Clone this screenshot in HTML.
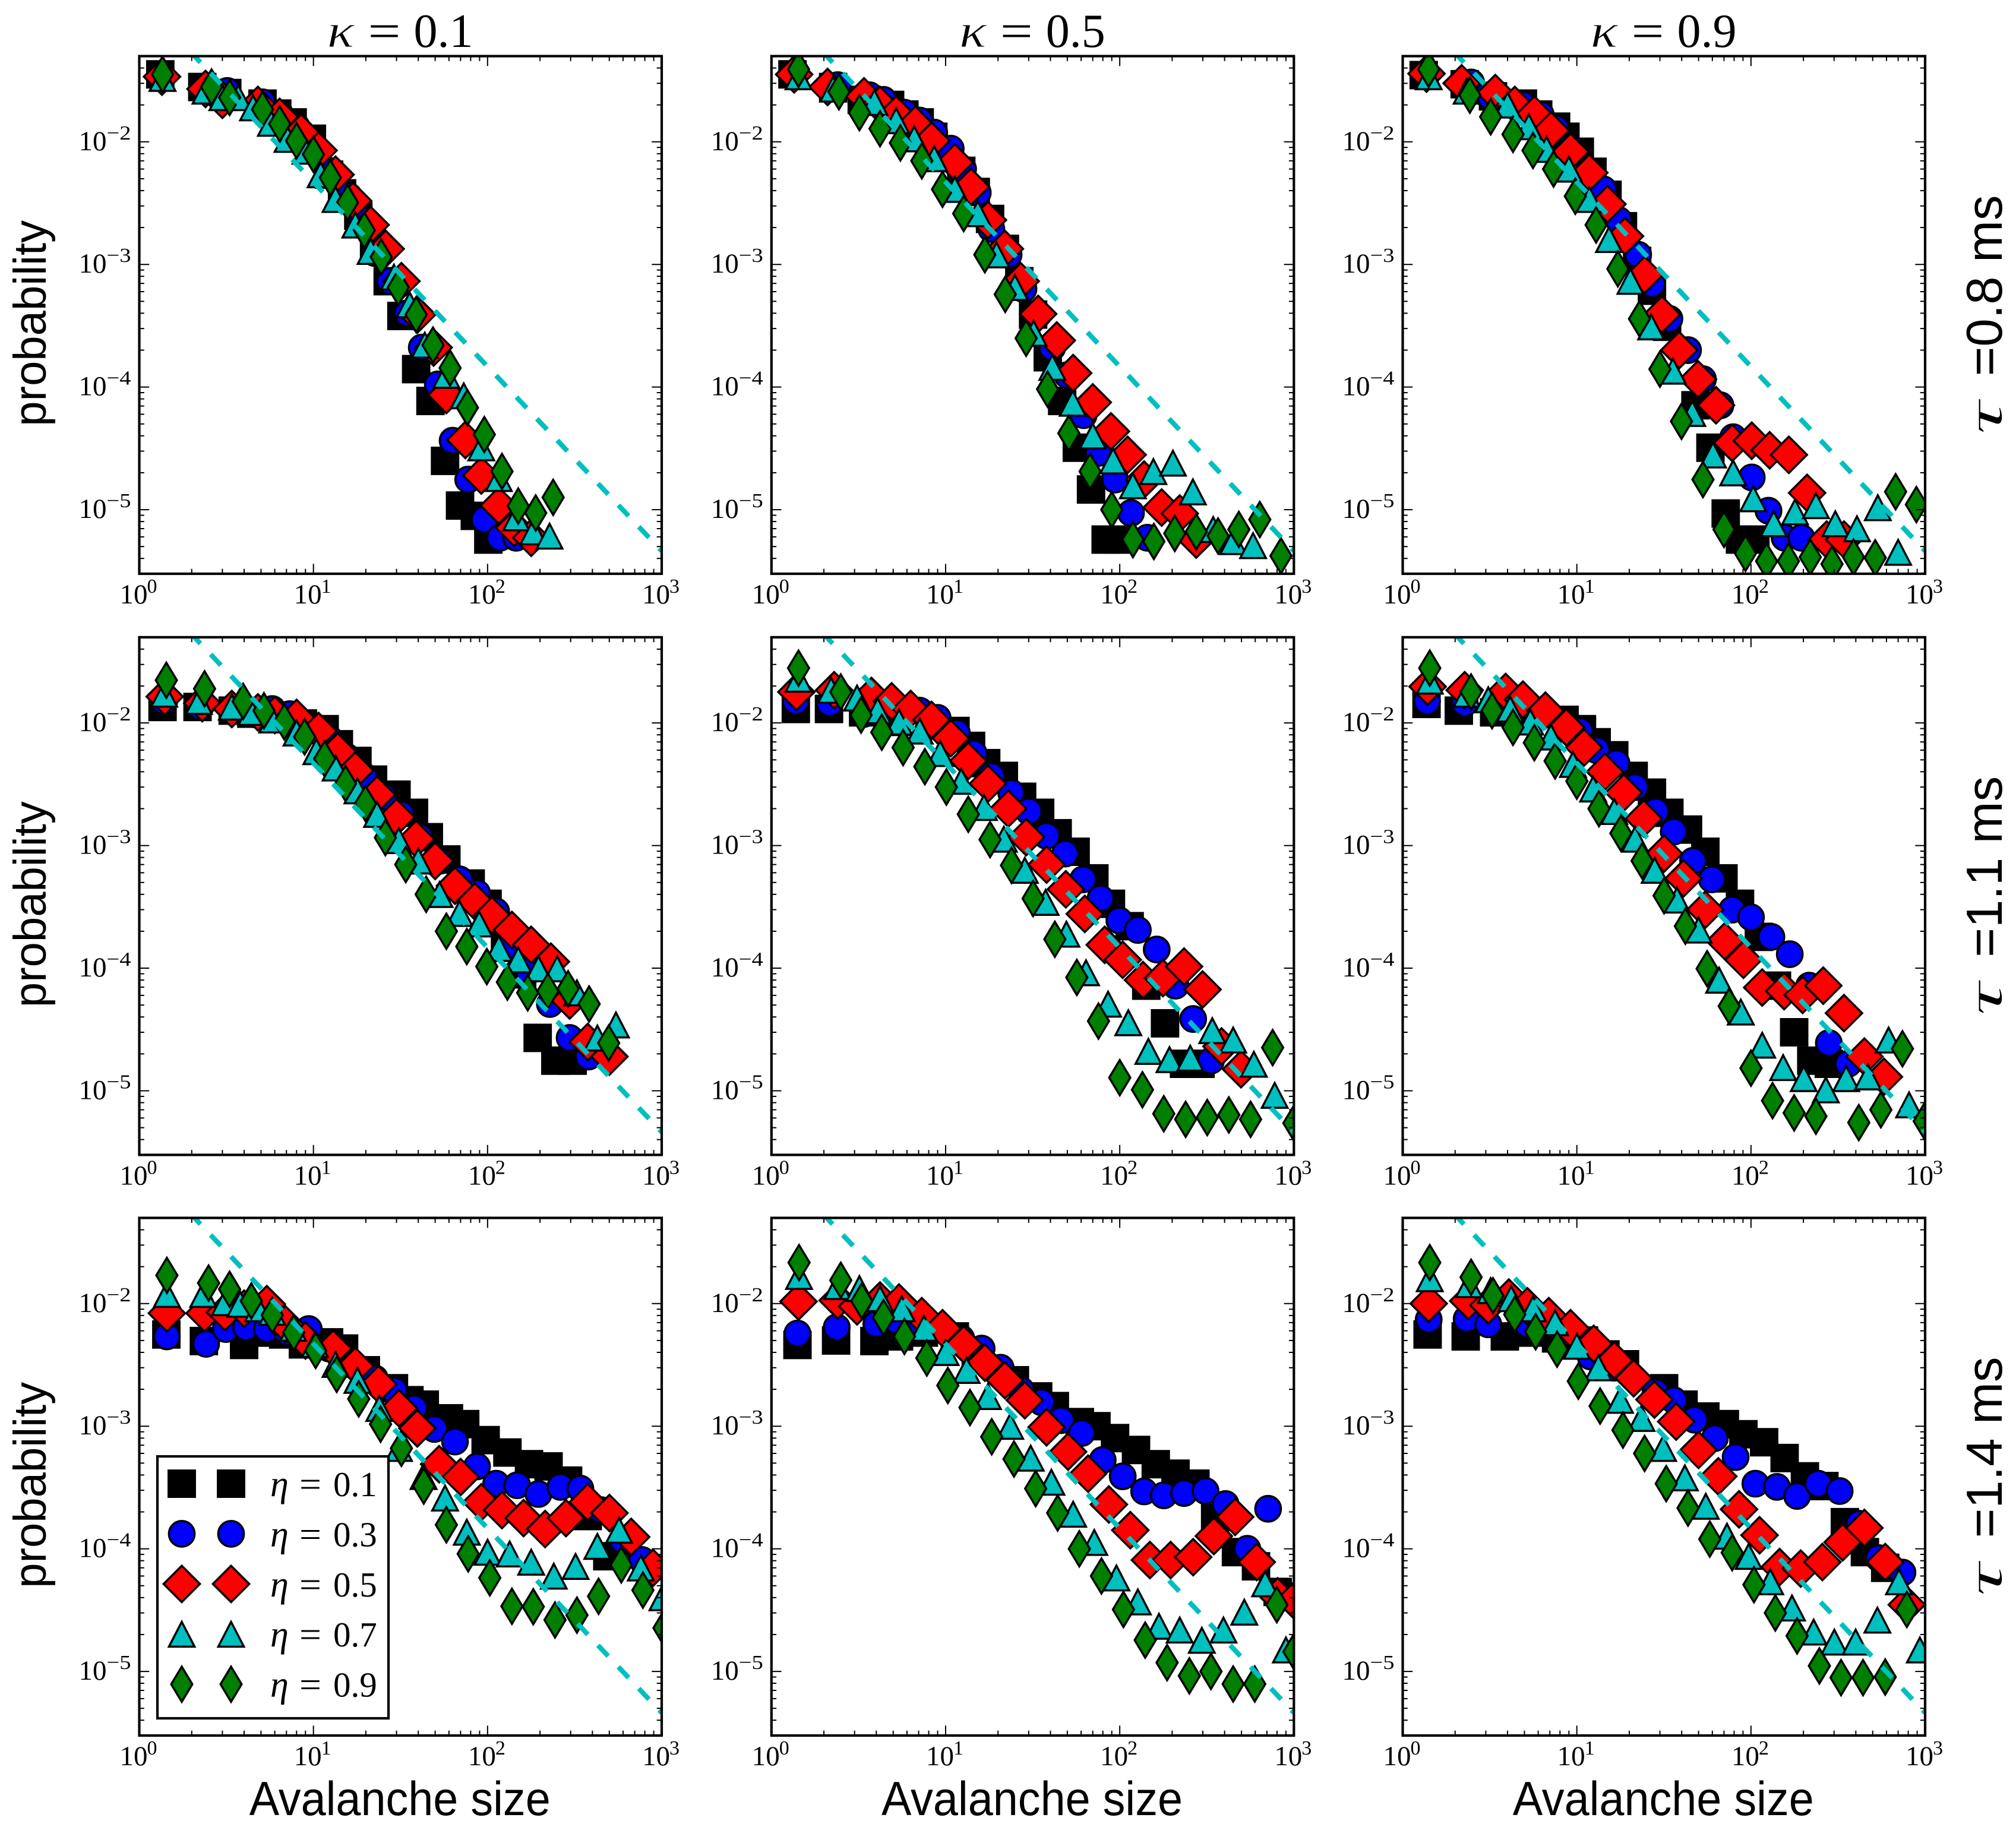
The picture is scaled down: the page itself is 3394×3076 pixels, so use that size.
<!DOCTYPE html>
<html lang="en">
<head>
<meta charset="utf-8">
<title>Avalanche size distributions</title>
<style>
html,body{margin:0;padding:0;background:#fff;}
#fig{display:block;width:3394px;height:3076px;}
text{fill:#000;}
</style>
</head>
<body>
<svg id="fig" xmlns="http://www.w3.org/2000/svg" width="3394" height="3076" viewBox="0 0 3394 3076"></svg>
<script>
/* ---------- categories and tick labels ---------- */
const kappaLabels=["0.1","0.5","0.9"];
const tauLabels=["0.8","1.1","1.4"];
const etaLabels=["0.1","0.3","0.5","0.7","0.9"];
const xTickExponents=[0,1,2,3];
const yTickExponents=[-5,-4,-3,-2];
const minorMultipliers=[2,3,4,5,6,7,8,9];
const refLineSizes=[1,1000];
const refLineProbs=[0.15,4.6e-6];

/* ---------- kappa 0.1, tau 0.8 ---------- */
const k1t08e1Size=[1.32,2.3,3.2,5.1,6.2,7.6,9.8,12.3,14.6,18.1,22.3,26.7,32,38.9,47,57,69.5,84.5,101];
const k1t08e1Prob=[3.55e-2,2.8e-2,2.5e-2,2.05e-2,1.7e-2,1.44e-2,1.06e-2,5.4e-3,3.8e-3,2.5e-3,1.36e-3,7.3e-4,3.8e-4,1.4e-4,7.7e-5,2.5e-5,1.08e-5,8.9e-6,5.7e-6];
const k1t08e3Size=[1.35,2.4,3.2,5.1,6.4,8,10,12.3,16,19,22.5,27.5,34.7,41.9,51.8,63,77.4,96,118,146];
const k1t08e3Prob=[3.4e-2,2.8e-2,2.6e-2,2.1e-2,1.7e-2,1.33e-2,9.5e-3,5.8e-3,3.6e-3,2.3e-3,1.24e-3,7.3e-4,4e-4,2.1e-4,1.05e-4,3.65e-5,1.76e-5,8.3e-6,5.9e-6,5.9e-6];
const k1t08e5Size=[1.35,2.4,3,4.8,6.4,8.5,10.7,13.4,16.9,21.3,26,32,39.5,49,58,74.5,92,116,142,178];
const k1t08e5Prob=[3.4e-2,2.7e-2,2.2e-2,2e-2,1.6e-2,1.19e-2,8.5e-3,5.4e-3,3.3e-3,2.1e-3,1.34e-3,7.3e-4,3.9e-4,2.1e-4,8.6e-5,3.7e-5,1.9e-5,1.08e-5,7.1e-6,5.9e-6];
const k1t08e7Size=[1.36,2.4,3,3.7,4.5,5.7,7.1,9,11,13.4,17.4,21.3,29,35.7,43.6,58,73,92,116,146,183,227];
const k1t08e7Prob=[3.3e-2,2.6e-2,2.3e-2,2.3e-2,1.9e-2,1.42e-2,1.05e-2,8.4e-3,5.4e-3,3.4e-3,2.1e-3,1.28e-3,7.9e-4,4.7e-4,2.2e-4,1.25e-4,8.5e-5,3.2e-5,1.8e-5,8.6e-6,6.6e-6,6.1e-6];
const k1t08e9Size=[1.36,2.6,3.3,5.1,6.4,8,10,12.5,15.7,19.6,24.5,30.7,38.9,48.6,60.9,76.6,95.8,121,150,189,238];
const k1t08e9Prob=[3.55e-2,2.8e-2,2.3e-2,1.84e-2,1.4e-2,1.02e-2,7.9e-3,5.1e-3,3.2e-3,1.9e-3,1.15e-3,6.5e-4,3.9e-4,2.2e-4,1.43e-4,6.8e-5,4.1e-5,2.05e-5,1.07e-5,9.4e-6,1.26e-5];

/* ---------- kappa 0.5, tau 0.8 ---------- */
const k5t08e1Size=[1.32,2.26,3.3,4.8,5.8,7.1,8.5,10.1,12.3,14.9,18,21.9,26.5,31.8,38.6,46.7,56.7,68.4,83,99.5];
const k5t08e1Prob=[3.55e-2,2.8e-2,2.2e-2,2e-2,1.67e-2,1.44e-2,1.1e-2,7.9e-3,5.8e-3,3.9e-3,2.35e-3,1.34e-3,7.3e-4,3.9e-4,1.75e-4,7.7e-5,3.2e-5,1.46e-5,5.7e-6,5.7e-6];
const k5t08e3Size=[1.35,2.4,3.65,4.4,5.8,7.1,8.6,10.7,12.6,15.3,18.3,23,28,34,41,50,62,75.5,94,116,144];
const k5t08e3Prob=[3.4e-2,2.9e-2,2.4e-2,2.2e-2,1.73e-2,1.49e-2,1.19e-2,8.8e-3,6e-3,3.85e-3,1.95e-3,1.2e-3,6.3e-4,3.9e-4,2.1e-4,1.25e-4,5.9e-5,2.9e-5,1.76e-5,9.4e-6,5.9e-6];
const k5t08e5Size=[1.35,2.1,3.4,4.2,5.2,6.7,8.3,11.3,14,17.5,21.9,27,34,43.5,54,70,89,111,138,174,221,275];
const k5t08e5Prob=[3.55e-2,2.8e-2,2.35e-2,2e-2,1.67e-2,1.38e-2,1.02e-2,6.8e-3,4.3e-3,2.3e-3,1.34e-3,7.3e-4,3.95e-4,2.4e-4,1.3e-4,7.5e-5,4.35e-5,2.8e-5,1.76e-5,1.04e-5,9.3e-6,5.7e-6];
const k5t08e7Size=[1.43,2.26,3.9,5.2,6.6,8.6,11.3,15.3,19.6,25,32,41,53.7,70,91.6,119,156,202,263,344,448,583];
const k5t08e7Prob=[3.4e-2,2.7e-2,2.1e-2,1.49e-2,1.06e-2,7.3e-3,4.1e-3,2.6e-3,1.2e-3,6.5e-4,2.75e-4,1.45e-4,7.4e-5,4e-5,2.5e-5,1.57e-5,2.05e-5,2.4e-5,1.4e-5,6.9e-6,5.5e-6,5.1e-6];
const k5t08e9Size=[1.43,2.44,3.2,4.2,5.5,7.3,9.6,12.7,16.8,22,29,38.5,51,67.6,90,119,157,207,275,367,483,637,843];
const k5t08e9Prob=[3.9e-2,2.56e-2,1.73e-2,1.28e-2,9.8e-3,7e-3,4.1e-3,2.6e-3,1.2e-3,5.7e-4,2.5e-4,9.6e-5,4.2e-5,2.05e-5,1e-5,5.7e-6,5.5e-6,6.4e-6,6.6e-6,6.1e-6,6.9e-6,8.3e-6,4.2e-6];

/* ---------- kappa 0.9, tau 0.8 ---------- */
const k9t08e1Size=[1.32,2.27,3.3,4.9,6,7.6,8.6,10.4,12.3,15,18.4,22.2,27,33,48,58.5,71.6,86.5,106];
const k9t08e1Prob=[3.5e-2,2.95e-2,2.35e-2,2.05e-2,1.67e-2,1.33e-2,1.1e-2,8.3e-3,5.7e-3,3.7e-3,2.05e-3,1.07e-3,6.1e-4,3.1e-4,7.1e-5,3.2e-5,9.3e-6,5.7e-6,5.7e-6];
const k9t08e3Size=[1.37,2.47,3.1,4.9,6.2,7.6,9.2,14.2,17.4,22.5,27,34,43.5,53,66.8,79,101,126,156,195];
const k9t08e3Prob=[3.55e-2,3.05e-2,2.4e-2,2e-2,1.67e-2,1.28e-2,8.9e-3,4.1e-3,2.3e-3,1.2e-3,6.9e-4,3.6e-4,2e-4,1.16e-4,7.1e-5,3.9e-5,1.83e-5,9.8e-6,5.9e-6,5.9e-6];
const k9t08e5Size=[1.37,2.18,3.4,4.4,5.7,7.1,9.2,11.8,15,18.9,24.5,30.8,38.7,49.6,63,78,101,128,165,210,272,342];
const k9t08e5Prob=[3.6e-2,3e-2,2.5e-2,2e-2,1.67e-2,1.24e-2,8.3e-3,5.6e-3,3.1e-3,1.7e-3,8.2e-4,3.9e-4,2e-4,1.16e-4,7.1e-5,3.5e-5,3.65e-5,3.05e-5,2.8e-5,1.37e-5,5.7e-6,5.7e-6];
const k9t08e7Size=[1.41,2.33,4,5.3,6.7,9,11.8,15.3,20.3,26.7,35.6,46,60.5,79,103,135,179,236,305,406,535,700];
const k9t08e7Prob=[3.4e-2,2.6e-2,2e-2,1.33e-2,8.7e-3,6e-3,3.4e-3,1.6e-3,7.3e-4,3.1e-4,1.35e-4,6.1e-5,2.8e-5,2e-5,1.23e-5,7.7e-6,9.6e-6,1.08e-5,7.7e-6,7e-6,1.04e-5,4.5e-6];
const k9t08e9Size=[1.41,2.43,3.2,4.3,5.6,7.35,9.8,12.9,17.2,22.9,30,39.9,53,70,93,123,164,219,292,388,517,677,891];
const k9t08e9Prob=[3.9e-2,2.4e-2,1.6e-2,1.15e-2,8.5e-3,6e-3,3.6e-3,2.1e-3,9.2e-4,3.6e-4,1.4e-4,5.25e-5,1.76e-5,6.9e-6,4.4e-6,3.8e-6,3.8e-6,4.1e-6,3.6e-6,4.1e-6,4.05e-6,1.4e-5,1.1e-5];

/* ---------- kappa 0.1, tau 1.1 ---------- */
const k1t11e1Size=[1.36,2.16,3.44,4.4,6.9,8.7,11.6,14,17.9,22,30,37.8,46,58,80,100,126,158,194,245,308];
const k1t11e1Prob=[1.35e-2,1.35e-2,1.26e-2,1.19e-2,1.13e-2,9.9e-3,8.9e-3,6.7e-3,4.9e-3,3.45e-3,2.6e-3,1.85e-3,1.17e-3,7.7e-4,4.9e-4,3.35e-4,1.66e-4,8.9e-5,2.7e-5,1.76e-5,1.76e-5];
const k1t11e3Size=[1.39,2.24,3.6,4.5,5.8,7.3,10,12.3,15.5,19.5,25.3,31.8,41,52.7,69,87,112,138,173,228,296,380];
const k1t11e3Prob=[1.5e-2,1.35e-2,1.26e-2,1.18e-2,1.3e-2,1.18e-2,9.2e-3,7.5e-3,5.3e-3,3.7e-3,2.5e-3,1.8e-3,1.17e-3,7.5e-4,5.3e-4,4.1e-4,2.9e-4,1.55e-4,9.5e-5,5.1e-5,2.7e-5,1.9e-5];
const k1t11e5Size=[1.4,2.3,3.4,4.8,6,8,10.7,13.8,17.4,23.2,30,38.9,50,65,84.5,106,138,178,231,296,376,501];
const k1t11e5Prob=[1.64e-2,1.45e-2,1.3e-2,1.22e-2,1.16e-2,1.1e-2,8.6e-3,5.85e-3,4.1e-3,2.6e-3,1.7e-3,1.13e-3,7.5e-4,4.7e-4,3.5e-4,2.7e-4,2.05e-4,1.55e-4,1.13e-4,5.45e-5,2.5e-5,1.9e-5];
const k1t11e7Size=[1.39,2.2,3.4,4.4,5.8,8,10.4,13.4,17.9,23.2,30.9,40,53,69,89.5,116,150,196,251,326,427,546];
const k1t11e7Prob=[1.72e-2,1.5e-2,1.35e-2,1.22e-2,1.06e-2,8.3e-3,5.85e-3,4.3e-3,2.8e-3,1.8e-3,1.1e-3,7.5e-4,4e-4,2.8e-4,2.3e-4,1.45e-4,1.17e-4,9.9e-5,9.9e-5,6.3e-5,2.7e-5,3.45e-5];
const k1t11e9Size=[1.43,2.37,3.95,5.2,6.8,8.9,11.6,15.3,19.9,25.9,33.9,44.4,58,76,99,130,170,222,290,383,496];
const k1t11e9Prob=[2.23e-2,1.9e-2,1.5e-2,1.26e-2,1.02e-2,7.7e-3,5.1e-3,3.2e-3,2.2e-3,1.16e-3,7e-4,4e-4,2e-4,1.5e-4,1.03e-4,7.7e-5,6.3e-5,6.5e-5,6.8e-5,5.1e-5,2.45e-5];

/* ---------- kappa 0.5, tau 1.1 ---------- */
const k5t11e1Size=[1.38,2.14,3.36,5.2,8.1,11.4,14,17.1,21.6,27.5,34.9,44,55.8,71.5,89,114,142,182,234,291];
const k5t11e1Prob=[1.3e-2,1.3e-2,1.22e-2,1.02e-2,9.5e-3,8.6e-3,6.5e-3,4.7e-3,3.7e-3,2.5e-3,1.85e-3,1.26e-3,8.9e-4,5.4e-4,3.35e-4,2.2e-4,7.2e-5,3.55e-5,1.66e-5,1.66e-5];
const k5t11e3Size=[1.38,2.16,3.36,4.4,5.8,7.1,9,11.6,14.5,18.3,23.8,30,38,48.6,61.6,77.6,99.5,127,163,209,264,334];
const k5t11e3Prob=[1.5e-2,1.45e-2,1.18e-2,1.26e-2,1.22e-2,1.26e-2,1.1e-2,8.3e-3,5.65e-3,3.7e-3,2.7e-3,1.9e-3,1.2e-3,8.6e-4,5.3e-4,3.7e-4,2.45e-4,2.05e-4,1.42e-4,7.2e-5,3.85e-5,1.76e-5];
const k5t11e5Size=[1.39,2.29,3.75,4.9,6.3,8.3,10.7,13.5,17.5,22.9,29,38,49,63,82,104,136,177,234,299,384,497];
const k5t11e5Prob=[1.79e-2,1.85e-2,1.66e-2,1.5e-2,1.3e-2,1.06e-2,7.5e-3,4.9e-3,3.2e-3,2e-3,1.17e-3,7e-4,4.4e-4,2.77e-4,1.55e-4,1.17e-4,8e-5,8.3e-5,1.03e-4,6.7e-5,2.3e-5,1.5e-5];
const k5t11e7Size=[1.43,2.2,3.1,4.07,5.4,7.1,9.3,12.3,16.6,21.6,28.5,37.5,49.4,64,85.7,112,146,193,254,340,448,589,776];
const k5t11e7Prob=[2.28e-2,1.85e-2,1.6e-2,1.26e-2,1.02e-2,8.6e-3,5.65e-3,3.35e-3,2.05e-3,1.13e-3,6.3e-4,3.45e-4,1.9e-4,9.2e-5,5.1e-5,3.6e-5,2.1e-5,1.8e-5,1.85e-5,3.1e-5,2.6e-5,1.65e-5,9.2e-6];
const k5t11e9Size=[1.43,2.5,3.27,4.3,5.7,7.6,10.1,13.5,18,23.9,31.8,42.4,56.7,75.5,100,135,179,239,318,423,564,755,1000];
const k5t11e9Prob=[2.8e-2,1.79e-2,1.16e-2,8.4e-3,6.3e-3,4.4e-3,3e-3,1.8e-3,1.12e-3,6.9e-4,3.7e-4,1.72e-4,8.4e-5,3.7e-5,1.28e-5,1.02e-5,6.5e-6,5.85e-6,6.05e-6,6.35e-6,5.85e-6,2.25e-5,5.45e-6];

/* ---------- kappa 0.9, tau 1.1 ---------- */
const k9t11e1Size=[1.37,2.1,3.35,5.4,8.5,10.7,13,16.4,21.2,27,34,43.5,54.7,69.5,86.5,111,141,177,222,280];
const k9t11e1Prob=[1.43e-2,1.26e-2,1.22e-2,1.16e-2,1.06e-2,8.9e-3,6.96e-3,5.45e-3,3.7e-3,2.7e-3,1.85e-3,1.35e-3,8.9e-4,5.4e-4,3.35e-4,1.8e-4,7.2e-5,3e-5,1.76e-5,1.66e-5];
const k9t11e3Size=[1.38,2.27,3.9,8,10.4,13,16.9,21.6,28.3,36,46.5,59.6,78,100,131,167,216,280,362];
const k9t11e3Prob=[1.5e-2,1.45e-2,1.26e-2,1.02e-2,8.6e-3,6e-3,4.7e-3,3e-3,1.9e-3,1.3e-3,7.5e-4,5.3e-4,3e-4,2.6e-4,1.8e-4,1.3e-4,7.2e-5,2.45e-5,1.66e-5];
const k9t11e5Size=[1.39,2.27,3.9,4.9,6.6,8.7,11,14.5,18.6,24.2,31.7,41,54.7,70.8,90.5,116,155,198,260,342,448,580];
const k9t11e5Prob=[1.98e-2,1.85e-2,1.79e-2,1.55e-2,1.26e-2,9.2e-3,6.3e-3,4e-3,2.7e-3,1.66e-3,8.6e-4,5.4e-4,3e-4,1.66e-4,1.17e-4,6.95e-5,6.5e-5,6.05e-5,7.2e-5,4.3e-5,1.9e-5,1.3e-5];
const k9t11e7Size=[1.43,2.33,3.1,4.14,5.4,7.1,9.5,12.4,16.4,21.6,28,37.6,50,65.6,87.4,116,153,201,269,352,469,617,809];
const k9t11e7Prob=[2.2e-2,1.72e-2,1.55e-2,1.3e-2,1.02e-2,7.7e-3,4.6e-3,2.9e-3,1.9e-3,1.13e-3,6.3e-4,3.6e-4,2.05e-4,8e-5,4.4e-5,2.36e-5,1.55e-5,1.26e-5,1.02e-5,1.26e-5,1.3e-5,2.6e-5,7.7e-6];
const k9t11e9Size=[1.43,2.47,3.26,4.3,5.7,7.5,10,13.4,17.9,23.7,31.7,42,56,75,100,133,177,236,416,557,741,988];
const k9t11e9Prob=[2.8e-2,1.79e-2,1.26e-2,9.2e-3,6.9e-3,4.9e-3,3.35e-3,2e-3,1.26e-3,7.5e-4,3.9e-4,2.2e-4,9.9e-5,4.9e-5,1.53e-5,8.3e-6,6.6e-6,6.2e-6,5.5e-6,7e-6,2.2e-5,5.65e-6];

/* ---------- kappa 0.1, tau 1.4 ---------- */
const k1t14e1Size=[1.43,2.35,4,5.4,6.7,8.7,12.3,15,20,29,35.6,43.6,60,74.4,97.5,130,173,224,290,376,487,631];
const k1t14e1Prob=[5.6e-3,4.95e-3,4.6e-3,5.8e-3,5.6e-3,4.65e-3,4.83e-3,4.3e-3,2.86e-3,2.04e-3,1.63e-3,1.5e-3,1.16e-3,1.04e-3,7.7e-4,6.1e-4,4.9e-4,4.7e-4,3.6e-4,1.85e-4,8.7e-5,9.4e-5];
const k1t14e3Size=[1.44,2.42,3.14,4.1,5.4,7.1,9.4,12.3,16.4,22.5,29,37.8,49.5,65,87,112,148,196,262,341,447,596,771];
const k1t14e3Prob=[5.4e-3,4.7e-3,6.2e-3,6.4e-3,6.2e-3,5.8e-3,6.2e-3,4.3e-3,3.2e-3,2.46e-3,1.96e-3,1.4e-3,9.5e-4,7.5e-4,4.7e-4,3.4e-4,3.3e-4,2.8e-4,3.2e-4,3.1e-4,2.07e-4,1.18e-4,8.1e-5];
const k1t14e5Size=[1.44,2.37,3.1,4,5.4,6.9,9,13,17.4,23.6,31,39.5,52.7,70,92,121,161,214,282,376,501,668,891];
const k1t14e5Prob=[8.35e-3,8.35e-3,8.5e-3,9.1e-3,9.9e-3,6.77e-3,5e-3,4.3e-3,3.1e-3,2.2e-3,1.4e-3,9.6e-4,4.9e-4,3.85e-4,2.4e-4,2.07e-4,1.78e-4,1.45e-4,1.78e-4,2.4e-4,1.96e-4,1.25e-4,7e-5];
const k1t14e7Size=[1.44,2.33,3.1,3.8,4.8,5.8,7.65,10.2,13.4,17.9,23.9,31,42.9,57,76,100,134,178,240,320,427,569,759,1010];
const k1t14e7Prob=[1.19e-2,1.19e-2,1.02e-2,9.9e-3,9.1e-3,8.5e-3,6.3e-3,4.65e-3,3.2e-3,2.37e-3,1.4e-3,6.6e-4,3.9e-4,2.6e-4,1.37e-4,9.4e-5,9.1e-5,7.8e-5,6e-5,7.2e-5,1.05e-4,1.42e-4,7e-5,4e-5];
const k1t14e9Size=[1.44,2.5,3.3,4.4,5.8,7.7,10.3,13.6,18.2,24.3,32,43,58,77.4,103,138,183,244,326,434,586,780,1030];
const k1t14e9Prob=[1.7e-2,1.47e-2,1.31e-2,1.05e-2,8.05e-3,5.8e-3,4.15e-3,2.65e-3,1.67e-3,1.04e-3,6.6e-4,3.25e-4,1.57e-4,9.1e-5,5.8e-5,3.4e-5,3.37e-5,2.63e-5,2.88e-5,4.1e-5,7.4e-5,4.6e-5,2.26e-5];

/* ---------- kappa 0.5, tau 1.4 ---------- */
const k5t14e1Size=[1.41,2.35,3.9,5.4,7.5,11.3,14.9,25,34,42.4,59,73.5,94,124,161,209,272,353,465,606,807];
const k5t14e1Prob=[4.6e-3,5e-3,4.95e-3,5.4e-3,5.8e-3,5.4e-3,3.85e-3,2.37e-3,1.75e-3,1.46e-3,1.08e-3,1e-3,8e-4,6.4e-4,4.9e-4,4.1e-4,3.4e-4,1.78e-4,9.4e-5,7.2e-5,4.45e-5];
const k5t14e3Size=[1.41,2.37,4,5.2,6.9,9.6,12.3,16.1,20.7,27.2,35.5,46,60.5,79.8,104,138,179,234,311,405,540,711];
const k5t14e3Prob=[5.7e-3,6.4e-3,6.8e-3,7.3e-3,7.3e-3,6.3e-3,5.2e-3,4.3e-3,3e-3,1.96e-3,1.57e-3,1.12e-3,8.8e-4,5.3e-4,3.9e-4,2.94e-4,2.73e-4,2.85e-4,2.96e-4,2.32e-4,1e-4,2.12e-4];
const k5t14e5Size=[1.43,2.4,3.1,4.2,5.4,7.3,9.6,12.7,16.8,21.9,28.5,38,50.5,65.8,86.6,115,149,196,264,347,460,612,807,1000];
const k5t14e5Prob=[1.04e-2,1.06e-2,9.5e-3,1.06e-2,1.02e-2,7.9e-3,6.3e-3,4.65e-3,3.3e-3,2.37e-3,1.63e-3,9.8e-4,6.2e-4,4.1e-4,2.3e-4,1.42e-4,8.1e-5,8.1e-5,8.55e-5,1.27e-4,1.82e-4,7.8e-5,4.1e-5,3.8e-5];
const k5t14e7Size=[1.44,2.39,3.2,4.2,5.6,7.5,10,13.2,17.5,23.5,30.8,40.5,54,71.4,95.7,127,168,221,296,394,519,684,900];
const k5t14e7Prob=[1.67e-2,1.38e-2,1.33e-2,1.1e-2,9.1e-3,6.3e-3,4e-3,2.86e-3,1.75e-3,1e-3,5.5e-4,3.5e-4,1.92e-4,1.13e-4,5.8e-5,3.7e-5,2.34e-5,2.18e-5,1.8e-5,2.18e-5,3.05e-5,5.2e-5,1.5e-5];
const k5t14e9Size=[1.44,2.5,3.3,4.4,5.8,7.8,10.3,13.8,18.4,24.7,32.9,44,58.6,78.5,105,140,187,251,334,448,596,798,1000];
const k5t14e9Prob=[2.16e-2,1.55e-2,1.05e-2,7.7e-3,5.4e-3,3.6e-3,2.15e-3,1.42e-3,8.2e-4,5.4e-4,3.1e-4,1.96e-4,1e-4,6e-5,3.2e-5,1.8e-5,1.18e-5,9.2e-6,1e-5,7.9e-6,7.9e-6,3.5e-5,1.45e-5];

/* ---------- kappa 0.9, tau 1.4 ---------- */
const k9t14e1Size=[1.39,2.3,3.86,5.5,7.6,11,14.6,18.9,31.7,41,54.7,70.8,90.5,119,156,204,264,346,451,590];
const k9t14e1Prob=[5.6e-3,5.4e-3,5.4e-3,5.8e-3,5.2e-3,5e-3,3.85e-3,3.2e-3,2.04e-3,1.5e-3,1.2e-3,1.04e-3,8.6e-4,7.4e-4,5.5e-4,3.9e-4,3.25e-4,1.65e-4,9.4e-5,7e-5];
const k9t14e3Size=[1.41,2.33,3.1,5.2,8.5,12,16.4,28.3,36,47.4,62,81.6,106,141,184,243,323,418,541,741];
const k9t14e3Prob=[7.4e-3,7.5e-3,6.77e-3,6.77e-3,5.8e-3,3.7e-3,3e-3,1.9e-3,1.63e-3,1.13e-3,8e-4,5.6e-4,3.4e-4,3.2e-4,2.7e-4,3.4e-4,2.96e-4,1.6e-4,8.4e-5,6.4e-5];
const k9t14e5Size=[1.41,2.38,3.1,4.07,5.2,6.9,9.2,12.5,16.4,21.2,27.9,37.2,50,64.9,85.4,112,146,193,257,336,448,590,785];
const k9t14e5Prob=[1e-2,1.05e-2,9.7e-3,1.12e-2,9.5e-3,7.9e-3,6.3e-3,4.7e-3,3.45e-3,2.46e-3,1.65e-3,1.09e-3,6.4e-4,3.9e-4,2.1e-4,1.29e-4,7.1e-5,6.9e-5,7.8e-5,1.13e-4,1.48e-4,7.8e-5,3.5e-5];
const k9t14e7Size=[1.43,2.4,3.2,4.2,5.6,7.5,10,13.3,17.7,23.5,31.3,41.7,55,72.8,97,129,172,229,301,399,532,708,933];
const k9t14e7Prob=[1.6e-2,1.43e-2,1.28e-2,1.1e-2,9.1e-3,7e-3,4.5e-3,3e-3,1.63e-3,1.16e-3,6.6e-4,3.8e-4,2.23e-4,1.27e-4,8.7e-5,5.4e-5,3.3e-5,2.1e-5,1.74e-5,1.74e-5,2.63e-5,5.4e-5,1.5e-5];
const k9t14e9Size=[1.43,2.47,3.3,4.4,5.8,7.7,10.2,13.6,18.4,24.5,32.6,43.5,58,78,104,138,184,247,329,440,590,785];
const k9t14e9Prob=[2.16e-2,1.64e-2,1.16e-2,8.15e-3,5.9e-3,4.25e-3,2.33e-3,1.46e-3,9.3e-4,6e-4,3.4e-4,2.15e-4,1.2e-4,9.3e-5,5.1e-5,3e-5,1.95e-5,1.11e-5,8.9e-6,8.9e-6,9e-6,3.2e-5];

/* ---------- references: [row][col][eta] ---------- */
const seriesSizes=[
 [[k1t08e1Size,k1t08e3Size,k1t08e5Size,k1t08e7Size,k1t08e9Size],[k5t08e1Size,k5t08e3Size,k5t08e5Size,k5t08e7Size,k5t08e9Size],[k9t08e1Size,k9t08e3Size,k9t08e5Size,k9t08e7Size,k9t08e9Size]],
 [[k1t11e1Size,k1t11e3Size,k1t11e5Size,k1t11e7Size,k1t11e9Size],[k5t11e1Size,k5t11e3Size,k5t11e5Size,k5t11e7Size,k5t11e9Size],[k9t11e1Size,k9t11e3Size,k9t11e5Size,k9t11e7Size,k9t11e9Size]],
 [[k1t14e1Size,k1t14e3Size,k1t14e5Size,k1t14e7Size,k1t14e9Size],[k5t14e1Size,k5t14e3Size,k5t14e5Size,k5t14e7Size,k5t14e9Size],[k9t14e1Size,k9t14e3Size,k9t14e5Size,k9t14e7Size,k9t14e9Size]]
];
const seriesProbs=[
 [[k1t08e1Prob,k1t08e3Prob,k1t08e5Prob,k1t08e7Prob,k1t08e9Prob],[k5t08e1Prob,k5t08e3Prob,k5t08e5Prob,k5t08e7Prob,k5t08e9Prob],[k9t08e1Prob,k9t08e3Prob,k9t08e5Prob,k9t08e7Prob,k9t08e9Prob]],
 [[k1t11e1Prob,k1t11e3Prob,k1t11e5Prob,k1t11e7Prob,k1t11e9Prob],[k5t11e1Prob,k5t11e3Prob,k5t11e5Prob,k5t11e7Prob,k5t11e9Prob],[k9t11e1Prob,k9t11e3Prob,k9t11e5Prob,k9t11e7Prob,k9t11e9Prob]],
 [[k1t14e1Prob,k1t14e3Prob,k1t14e5Prob,k1t14e7Prob,k1t14e9Prob],[k5t14e1Prob,k5t14e3Prob,k5t14e5Prob,k5t14e7Prob,k5t14e9Prob],[k9t14e1Prob,k9t14e3Prob,k9t14e5Prob,k9t14e7Prob,k9t14e9Prob]]
];

/* ---------- layout and scales ---------- */
const SVGNS="http://www.w3.org/2000/svg";
const root=document.getElementById("fig");
const panelLefts=[234.5,1298.8,2361.5];
const panelTops=[94.5,1072.9,2050.5];
const panelW=879.5,panelH=871.5;
const xMin=1,xMax=1000,yMin=3e-6,yMax=0.05;
const serifFont='"Liberation Serif","DejaVu Serif",serif';
const sansFont='"Liberation Sans","DejaVu Sans",sans-serif';
const markerKinds=["square","circle","diamond","triangle","thin-diamond"];
const markerFills=["#000000","#0000ff","#ff0000","#00bfbf","#007f00"];
const edgeWidth=3.5;

function xScale(col,v){
  return panelLefts[col]+panelW*(Math.log10(v)-Math.log10(xMin))/(Math.log10(xMax)-Math.log10(xMin));
}
function yScale(row,v){
  return panelTops[row]+panelH*(Math.log10(yMax)-Math.log10(v))/(Math.log10(yMax)-Math.log10(yMin));
}
function make(tag,attrs,parent){
  const el=document.createElementNS(SVGNS,tag);
  for(const k in attrs){el.setAttribute(k,attrs[k]);}
  parent.appendChild(el);
  return el;
}
function label(str,attrs,parent){
  const el=make("text",attrs,parent);
  el.textContent=str;
  return el;
}
function markerShape(kind,px,py,fill,parent){
  const common={fill:fill,stroke:"#000","stroke-width":edgeWidth,"stroke-linejoin":"miter","stroke-miterlimit":10};
  let el;
  if(kind==="square"){
    el=make("rect",Object.assign({x:px-22.2,y:py-22.2,width:44.4,height:44.4},common),parent);
  }else if(kind==="circle"){
    el=make("circle",Object.assign({cx:px,cy:py,r:21.6},common),parent);
  }else if(kind==="diamond"){
    const d=30.6;
    el=make("polygon",Object.assign({points:[px,py-d,px+d,py,px,py+d,px-d,py].join(" ")},common),parent);
  }else if(kind==="triangle"){
    el=make("polygon",Object.assign({points:[px,py-20.6,px+21.6,py+21.2,px-21.6,py+21.2].join(" ")},common),parent);
  }else{
    el=make("polygon",Object.assign({points:[px,py-29.6,px+17.8,py,px,py+29.6,px-17.8,py].join(" ")},common),parent);
  }
  return el;
}

/* ---------- panels ---------- */
const defs=make("defs",{},root);
for(let row=0;row<3;row++){
  for(let col=0;col<3;col++){
    const left=panelLefts[col],top=panelTops[row];
    const right=left+panelW,bottom=top+panelH;
    const clip=make("clipPath",{id:"clip-"+row+"-"+col},defs);
    make("rect",{x:left,y:top,width:panelW,height:panelH},clip);

    const panel=make("g",{},root);
    
    

    const marks=make("g",{"clip-path":"url(#clip-"+row+"-"+col+")"},panel);
    
    

    for(let s=0;s<5;s++){
      const group=make("g",{},marks);
      
      
      const sizes=seriesSizes[row][col][s];
      const probs=seriesProbs[row][col][s];
      for(let i=0;i<sizes.length;i++){
        const mark=markerShape(markerKinds[s],xScale(col,sizes[i]),yScale(row,probs[i]),markerFills[s],group);
        
        
      }
    }

    const refLine=make("line",{
      x1:xScale(col,refLineSizes[0]),y1:yScale(row,refLineProbs[0]),
      x2:xScale(col,refLineSizes[1]),y2:yScale(row,refLineProbs[1]),
      stroke:"#00bfbf","stroke-width":8.3,"stroke-dasharray":"25 25","stroke-dashoffset":25
    },marks);
    
    

    /* ticks */
    const ticks=make("g",{stroke:"#000","stroke-width":2},panel);
    
    
    for(const e of xTickExponents){
      const px=xScale(col,Math.pow(10,e));
      make("line",{x1:px,x2:px,y1:bottom,y2:bottom-16.7},ticks);
      make("line",{x1:px,x2:px,y1:top,y2:top+16.7},ticks);
      if(e<3){
        for(const m of minorMultipliers){
          const q=xScale(col,m*Math.pow(10,e));
          make("line",{x1:q,x2:q,y1:bottom,y2:bottom-8.3},ticks);
          make("line",{x1:q,x2:q,y1:top,y2:top+8.3},ticks);
        }
      }
    }
    for(let e=-6;e<=-2;e++){
      if(yTickExponents.indexOf(e)>=0){
        const py=yScale(row,Math.pow(10,e));
        make("line",{x1:left,x2:left+16.7,y1:py,y2:py},ticks);
        make("line",{x1:right,x2:right-16.7,y1:py,y2:py},ticks);
      }
      for(const m of minorMultipliers){
        const v=m*Math.pow(10,e);
        if(v<=yMin||v>=yMax){continue;}
        const q=yScale(row,v);
        make("line",{x1:left,x2:left+8.3,y1:q,y2:q},ticks);
        make("line",{x1:right,x2:right-8.3,y1:q,y2:q},ticks);
      }
    }

    /* frame */
    const frame=make("rect",{x:left,y:top,width:panelW,height:panelH,fill:"none",stroke:"#000","stroke-width":4.2},panel);
    
    

    /* x tick labels */
    for(const e of xTickExponents){
      const px=xScale(col,Math.pow(10,e));
      const base=label("10",{x:px-33,y:bottom+50,"font-family":serifFont,"font-size":47},panel);
      
      
      const sup=label(String(e),{x:px+13,y:bottom+32,"font-family":serifFont,"font-size":34},panel);
      
      
    }
    /* y tick labels */
    for(const e of yTickExponents){
      const py=yScale(row,Math.pow(10,e));
      const base=label("10",{x:left-14-41-47,y:py+14,"font-family":serifFont,"font-size":47},panel);
      
      
      const sup=label("\u2212"+Math.abs(e),{x:left-14-41,y:py-4,"font-family":serifFont,"font-size":34,textLength:41,lengthAdjust:"spacingAndGlyphs"},panel);
      
      
    }

    /* column titles */
    if(row===0){
      const t=make("g",{"font-family":serifFont,"font-size":80},panel);
      
      
      label("\u03ba",{x:left+316,y:79,"font-style":"italic",style:"stroke:#fff;stroke-width:1px",textLength:46,lengthAdjust:"spacingAndGlyphs"},t);
      label("=",{x:left+385,y:79,textLength:55,lengthAdjust:"spacingAndGlyphs"},t);
      label(kappaLabels[col],{x:left+462,y:79},t);
    }
    /* y axis titles */
    if(col===0){
      const cy=top+panelH/2+14;
      const yl=label("probability",{transform:"translate(77,"+cy+") rotate(-90)","text-anchor":"middle","font-family":sansFont,"font-size":77,textLength:347,lengthAdjust:"spacingAndGlyphs"},panel);
      
      
    }
    /* x axis titles */
    if(row===2){
      const xl=label("Avalanche size",{x:left+panelW/2-1,y:bottom+134,"text-anchor":"middle","font-family":sansFont,"font-size":81,textLength:507,lengthAdjust:"spacingAndGlyphs"},panel);
      
      
    }
    /* row titles */
    if(col===2){
      const cy=top+panelH/2;
      const g=make("g",{transform:"translate(3370,"+(cy+202)+") rotate(-90)"},panel);
      
      
      label("\u03c4",{x:0,y:0,"font-family":serifFont,"font-style":"italic","font-size":85,style:"stroke:#fff;stroke-width:1.2px",textLength:57,lengthAdjust:"spacingAndGlyphs"},g);
      label("="+tauLabels[row]+" ms",{x:99,y:0,"font-family":sansFont,"font-size":85},g);
    }
  }
}

/* ---------- legend ---------- */
const legend=make("g",{},root);


const legendBox=make("rect",{x:265,y:2452,width:389,height:441,fill:"#fff",stroke:"#000","stroke-width":4.2},legend);


for(let s=0;s<5;s++){
  const rowY=2498+s*84.4;
  const entry=make("g",{},legend);
  
  
  markerShape(markerKinds[s],306,rowY,markerFills[s],entry);
  markerShape(markerKinds[s],389,rowY,markerFills[s],entry);
  const base=rowY+21;
  label("\u03b7",{x:455,y:base,"font-family":serifFont,"font-style":"italic","font-size":62},entry);
  label("=",{x:504,y:base,"font-family":serifFont,"font-size":59,textLength:37,lengthAdjust:"spacingAndGlyphs"},entry);
  label(etaLabels[s],{x:561,y:base,"font-family":serifFont,"font-size":59},entry);
}
</script>
</body>
</html>
